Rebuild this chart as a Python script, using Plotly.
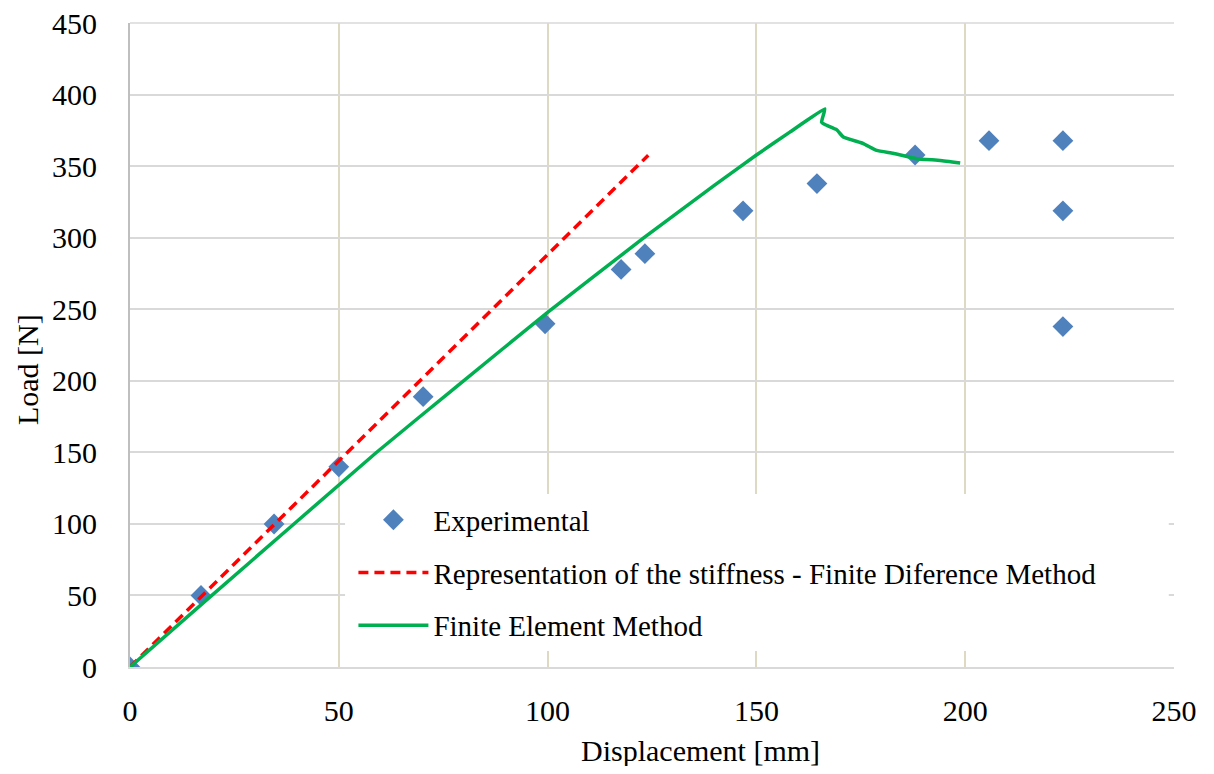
import plotly.graph_objects as go

# experimental points
exp_x = [0, 17, 34.5, 50, 70.2, 99.4, 117.6, 123.3, 146.8, 164.5, 188, 205.7, 223.4, 223.4, 223.4]
exp_y = [0, 50, 100, 140, 189, 240, 278, 289, 319, 338, 358, 368, 368, 319, 238]

# stiffness line - finite difference
fdm_x = [0, 124.1]
fdm_y = [0, 357.8]

# finite element curve
fem_x = [0, 17.6, 59, 79, 100, 123, 140, 150, 158, 166.4, 165.6, 166.4, 169.2, 170.8, 175.6, 178.8, 182.7, 188.4, 194, 198.8]
fem_y = [0, 45, 150, 198, 248, 300, 337, 358, 374, 390.3, 381, 379.3, 375.7, 370.6, 366, 361.2, 359.2, 355.4, 354.2, 352.4]

FONT = "Liberation Serif"

fig = go.Figure()
fig.add_trace(go.Scatter(
    x=exp_x, y=exp_y, mode='markers', name='Experimental',
    marker=dict(symbol='diamond', size=16, color='#4f81bd'),
    legendgroup='a'))
fig.add_trace(go.Scatter(
    x=fdm_x, y=fdm_y, mode='lines',
    name='Representation of the stiffness - Finite Diference Method',
    line=dict(color='#ff0000', width=3.5, dash='10px,6px'),
    legendgroup='b'))
fig.add_trace(go.Scatter(
    x=fem_x, y=fem_y, mode='lines', name='Finite Element Method',
    line=dict(color='#00b050', width=3.5, shape='spline', smoothing=0.3),
    legendgroup='c'))

# page has an 8px body margin, so the figure is a bit smaller than the window
fig.update_layout(
    width=1198, height=758,
    margin=dict(l=122, r=32, t=15, b=99),
    paper_bgcolor='white', plot_bgcolor='white',
    font=dict(family=FONT, size=30, color='black'),
    legend=dict(x=0.214, y=0.268, xanchor='left', yanchor='top',
                bgcolor='white', font=dict(size=29, family=FONT),
                traceorder='grouped', tracegroupgap=12, itemwidth=70),
    xaxis=dict(range=[0, 250], dtick=50, showgrid=True, gridcolor='#ddd9c3', gridwidth=1.5,
               showline=True, linecolor='#d9d9d9', linewidth=2, zeroline=False,
               ticks='', ticklabelstandoff=16, automargin=False,
               tickfont=dict(family=FONT, size=30)),
    yaxis=dict(range=[0, 450.3], dtick=50, showgrid=True, gridcolor='#d9d9d9', gridwidth=1.5,
               showline=True, linecolor='#bfbfbf', linewidth=2, zeroline=False,
               ticks='', ticklabelstandoff=25, automargin=False, ticklabeloverflow='allow',
               tickfont=dict(family=FONT, size=30)),
)

# top gridline (plotly drops it at the range edge) and the wide white legend box
fig.add_shape(type='line', xref='paper', yref='paper', x0=0, x1=1, y0=1, y1=1,
              line=dict(color='#d9d9d9', width=1.5), layer='above')
fig.add_shape(type='rect', xref='paper', yref='paper', x0=0.206, x1=0.995, y0=0.026, y1=0.264,
              fillcolor='white', line=dict(width=0), layer='above')

# axis titles (the original sits them off-centre)
fig.add_annotation(text='Displacement [mm]', xref='paper', yref='paper', x=0.546, y=0,
                   yshift=-83, showarrow=False, xanchor='center', yanchor='middle',
                   font=dict(family=FONT, size=30))
fig.add_annotation(text='Load [N]', xref='paper', yref='paper', x=0, y=0.461,
                   xshift=-103, textangle=-90, showarrow=False, xanchor='center', yanchor='middle',
                   font=dict(family=FONT, size=30))

fig.write_html("out.html")
